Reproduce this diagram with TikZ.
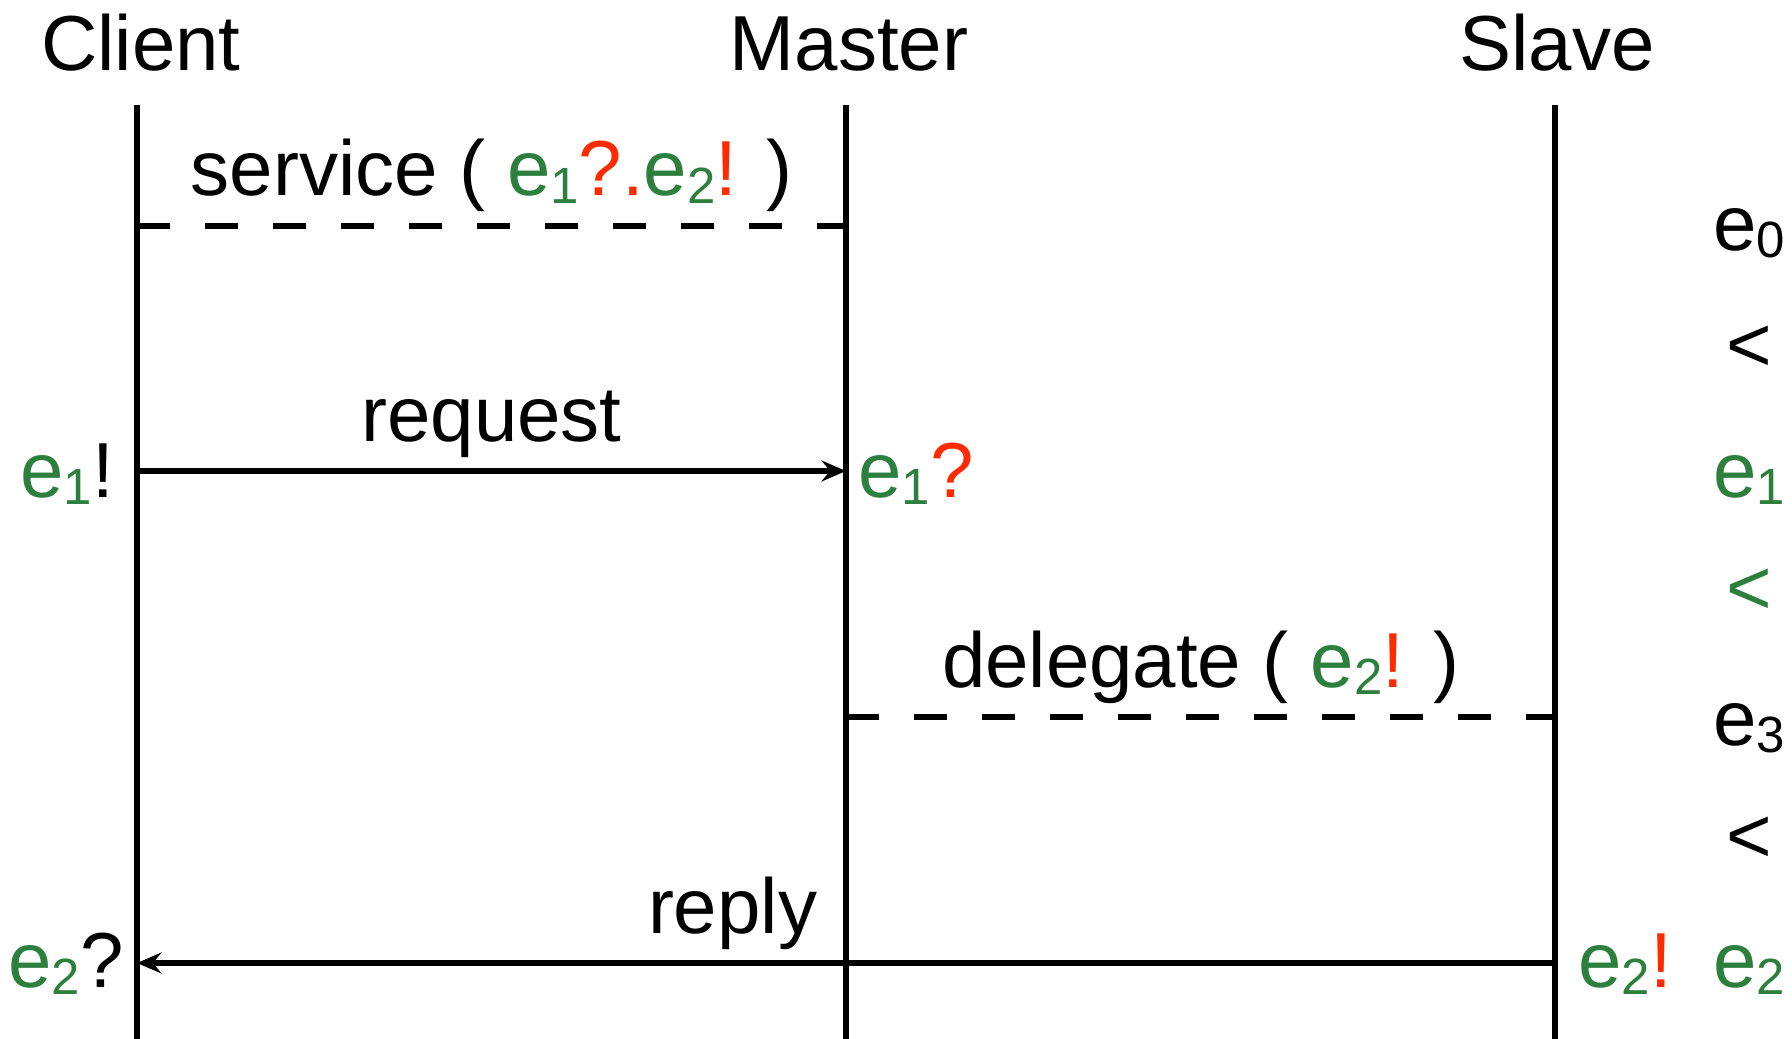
\documentclass[tikz,border=0pt]{standalone}
\usepackage{fontspec}
\setmainfont{Liberation Sans}
\usetikzlibrary{arrows.meta}

\definecolor{evgreen}{HTML}{2C7F3C}
\definecolor{evred}{HTML}{FF2A00}
\newcommand{\ev}[2][evgreen]{\textcolor{#1}{e\raisebox{-2.2pt}{\fontsize{14.5}{14.5}\selectfont #2}}}
\newcommand{\rd}[1]{\textcolor{evred}{#1}}

\begin{document}
\begin{tikzpicture}[font=\fontsize{22.2}{26}\selectfont, line width=1.45pt,
    msg/.style={anchor=base, yshift=0.3cm},
    evlabel/.style={anchor=base west, inner sep=0pt},
    order/.style={anchor=center, inner sep=0pt}]
    \useasboundingbox (0, 0) rectangle (17.92, -10.39);

    % lifelines
    \coordinate (ctop) at (1.37, -1.05);
    \coordinate (cbot) at (1.37, -10.39);
    \coordinate (mtop) at (8.46, -1.05);
    \coordinate (mbot) at (8.46, -10.39);
    \coordinate (stop) at (15.55, -1.05);
    \coordinate (sbot) at (15.55, -10.39);

    \node [anchor=base] (client) at (1.41, -0.71) {Client};
    \node [anchor=base] (master) at (8.49, -0.71) {Master};
    \node [anchor=base] (slave) at (15.57, -0.71) {Slave};

    \draw (ctop) -- (cbot);
    \draw (mtop) -- (mbot);
    \draw (stop) -- (sbot);

    % messages
    \coordinate (cserv) at (1.37, -2.26);
    \coordinate (mserv) at (8.46, -2.26);
    \coordinate (creq) at (1.37, -4.71);
    \coordinate (mreq) at (8.46, -4.71);
    \coordinate (mdel) at (8.46, -7.17);
    \coordinate (sdel) at (15.55, -7.17);
    \coordinate (crep) at (1.37, -9.63);
    \coordinate (srep) at (15.55, -9.63);

    \draw[dash pattern=on 0.33cm off 0.35cm] (cserv) -- node[msg] {service ( \ev{1}\rd{?.}\ev{2}\rd{!} )} (mserv);
    \draw[-{Stealth[length=7pt, width=6pt, inset=2.5pt]}] (creq) -- node[msg] {request} (mreq);
    \draw[dash pattern=on 0.33cm off 0.35cm] (mdel) -- node[msg] {delegate ( \ev{2}\rd{!} )} (sdel);
    \draw[-{Stealth[length=7pt, width=6pt, inset=2.5pt]}] (srep) -- node[msg, pos=0.58] {reply} (crep);

    % events at the lifelines
    \node [evlabel] (send1) at (0.18, -4.97) {\ev{1}!};
    \node [evlabel] (recv1) at (8.56, -4.97) {\ev{1}\rd{?}};
    \node [evlabel] (send2) at (15.76, -9.87) {\ev{2}\rd{!}};
    \node [evlabel] (recv2) at (0.06, -9.87) {\ev{2}?};

    % ordering
    \node [evlabel] (o0) at (17.11, -2.50) {\ev[black]{0}};
    \node [order] (lt1) at (17.49, -3.49) {<};
    \node [evlabel] (o1) at (17.11, -4.97) {\ev{1}};
    \node [order, evgreen] (lt2) at (17.49, -5.92) {<};
    \node [evlabel] (o3) at (17.11, -7.45) {\ev[black]{3}};
    \node [order] (lt3) at (17.49, -8.40) {<};
    \node [evlabel] (o2) at (17.11, -9.87) {\ev{2}};
\end{tikzpicture}
\end{document}
